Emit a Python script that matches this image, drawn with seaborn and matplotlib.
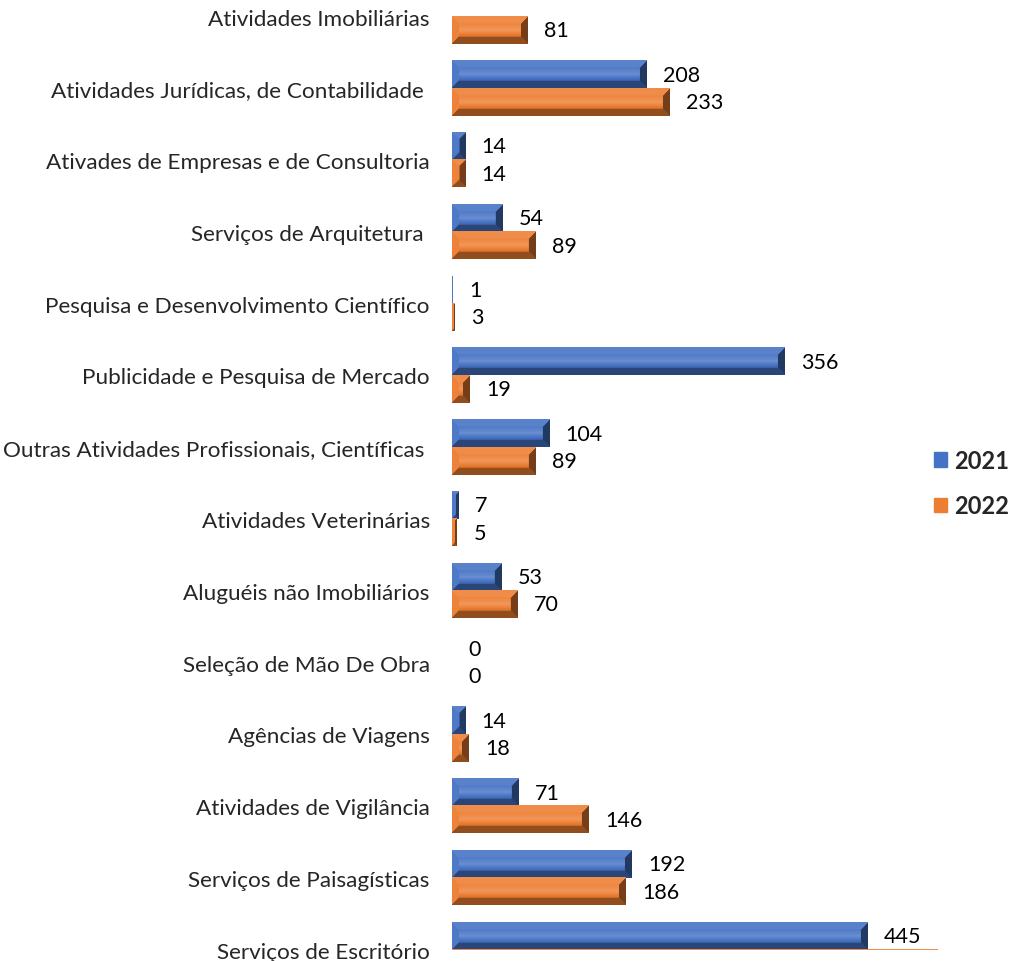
import numpy as np
import pandas as pd
import seaborn as sns
import matplotlib.pyplot as plt
from matplotlib.patches import Patch
from matplotlib.colors import to_rgb

categorias = [
    "Atividades Imobiliárias",
    "Atividades Jurídicas, de Contabilidade ",
    "Ativades de Empresas e de Consultoria",
    "Serviços de Arquitetura ",
    "Pesquisa e Desenvolvimento Científico",
    "Publicidade e Pesquisa de Mercado",
    "Outras Atividades Profissionais, Científicas ",
    "Atividades Veterinárias",
    "Aluguéis não Imobiliários",
    "Seleção de Mão De Obra",
    "Agências de Viagens",
    "Atividades de Vigilância",
    "Serviços de Paisagísticas",
    "Serviços de Escritório",
]
# first 2021 value and last 2022 value are cut off in the reference (estimated)
valores_2021 = [70, 208, 14, 54, 1, 356, 104, 7, 53, 0, 14, 71, 192, 445]
valores_2022 = [81, 233, 14, 89, 3, 19, 89, 5, 70, 0, 18, 146, 186, 520]
anos = ["2021", "2022"]
cores = ["#4472C4", "#ED7D31"]

df = pd.DataFrame({
    "categoria": categorias * 2,
    "valor": valores_2021 + valores_2022,
    "ano": [anos[0]] * len(categorias) + [anos[1]] * len(categorias),
})

sns.set_style("white")
plt.rcParams["font.family"] = ["Lato", "DejaVu Sans"]

fig = plt.figure(figsize=(10.15, 9.62), dpi=100)
ax = fig.add_axes([452 / 1015, 1 - 951 / 962, 488 / 1015, (951 - 17.3) / 962])

sns.barplot(data=df, y="categoria", x="valor", hue="ano", palette=cores,
            orient="h", width=0.76, dodge=True, ax=ax, saturation=1)
if ax.get_legend():
    ax.get_legend().remove()

ax.set_xlim(0, 488 / 0.933)
ax.set_ylim(13.003, -0.003)
fig.canvas.draw()


def shade(rgb, f):
    rgb = np.asarray(rgb)
    if f >= 1:
        return rgb + (1 - rgb) * (f - 1)
    return rgb * f


def bevel(patch, base):
    x, y = patch.get_x(), patch.get_y()
    w, h = patch.get_width(), patch.get_height()
    if w <= 0:
        return
    (x0, y0), (x1, y1) = ax.transData.transform([(x, y), (x + w, y + h)])
    pw, ph = max(int(round(abs(x1 - x0))), 1), max(int(round(abs(y1 - y0))), 1)
    yy, xx = np.mgrid[0:ph, 0:pw]
    t = yy / max(ph - 1, 1)
    # interior vertical gradient
    fac = np.interp(t, [0, 0.3, 0.5, 0.7, 1], [0.97, 1.08, 1.2, 0.95, 0.82])
    b = min(7, pw / 2, ph / 2)
    d = np.stack([yy, ph - 1 - yy, xx, pw - 1 - xx])
    edge = np.argmin(d, axis=0)
    near = d.min(axis=0) < b
    edge_fac = np.array([1.12, 0.62, 1.05, 0.5])
    fac = np.where(near, edge_fac[edge], fac)
    rgb = np.asarray(to_rgb(base))
    img = np.empty((ph, pw, 3))
    for f in np.unique(np.round(fac, 3)):
        m = np.isclose(np.round(fac, 3), f)
        img[m] = np.clip(shade(rgb, f), 0, 1)
    ax.imshow(img, extent=(x, x + w, y + h, y), aspect="auto",
              interpolation="bilinear", zorder=3)
    patch.set_visible(False)


for cont, cor in zip(ax.containers, cores):
    for p in cont.patches:
        bevel(p, cor)
    txts = ax.bar_label(cont, fmt="%d", padding=12, fontsize=15.5, color="black")
    for tx in txts:
        tx.set_clip_on(True)

ax.set_xlim(0, 488 / 0.933)
ax.set_ylim(13.003, -0.003)
ax.set_xlabel("")
ax.set_ylabel("")
ax.set_xticks([])
ax.tick_params(axis="y", length=0, pad=16, labelsize=16.2)
for s in ax.spines.values():
    s.set_visible(False)

handles = [Patch(facecolor=c, edgecolor=c) for c in cores]
fig.legend(handles, anos, loc="center left", bbox_to_anchor=(922 / 1015, 1 - 484 / 962),
           frameon=False, prop={"weight": "bold", "size": 17}, handlelength=0.55,
           handleheight=0.55, handletextpad=0.3, labelspacing=0.95, borderpad=0)

fig.savefig("out.png", dpi=100)
